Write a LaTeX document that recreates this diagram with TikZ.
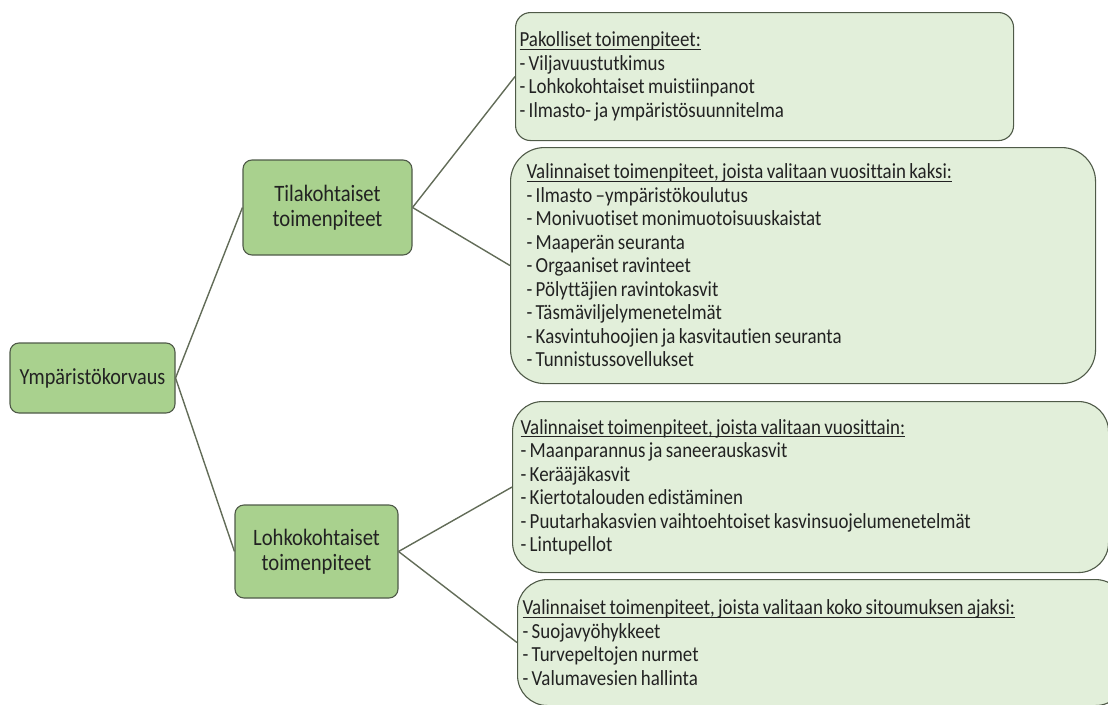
\documentclass[tikz,border=0pt]{standalone}
\usepackage{fontspec}
\setmainfont[Ligatures=NoCommon, FakeStretch=0.88]{Carlito}
\newsavebox\ulbox
\newcommand\myul[1]{\sbox\ulbox{#1}\rlap{\rule[-3.2pt]{\wd\ulbox}{1pt}}\usebox\ulbox}
\newcommand\tsp{\spaceskip=3.4pt\relax}
\definecolor{darkfill}{HTML}{A9D18E}
\definecolor{lightfill}{HTML}{E2EFDA}
\definecolor{bordercol}{HTML}{4F5A48}
\definecolor{linecol}{HTML}{626C58}
\definecolor{txt}{HTML}{222222}
\begin{document}
\begin{tikzpicture}[x=1pt,y=-1pt,
  mainbox/.style={draw=bordercol, line width=1.1pt, fill=darkfill, rounded corners=9pt,
    align=center, text=txt, inner sep=0pt},
  listbox/.style={draw=bordercol, line width=1.1pt, fill=lightfill, align=left, text=txt,
    font=\fontsize{21.5}{23.5}\selectfont, anchor=north west, inner ysep=0pt},
  conn/.style={draw=linecol, line width=1.4pt}]
\useasboundingbox (0,0) rectangle (1108,704);
\clip (0,0) rectangle (1108,704);

\node[mainbox, minimum width=165pt, minimum height=70pt, font=\fontsize{23}{26}\selectfont]
  (root) at (92.5,378) {Ympäristökorvaus};
\node[mainbox, minimum width=169pt, minimum height=95pt, font=\fontsize{23.5}{24.5}\selectfont]
  (tila) at (327.5,207.5) {Tilakohtaiset\\toimenpiteet};
\node[mainbox, minimum width=163pt, minimum height=93pt, font=\fontsize{23.5}{24.5}\selectfont]
  (lohko) at (316.5,551.5) {Lohkokohtaiset\\toimenpiteet};

\node[listbox, rounded corners=15pt, inner xsep=4pt, text width=490pt, minimum height=128pt]
  (b1) at (515,12) {\tsp\myul{Pakolliset toimenpiteet:}\\
  - Viljavuustutkimus\\
  - Lohkokohtaiset muistiinpanot\\
  - Ilmasto- ja ympäristösuunnitelma};
\node[listbox, rounded corners=34pt, inner xsep=16pt, text width=553pt, minimum height=236pt]
  (b2) at (510,147) {\tsp\myul{Valinnaiset toimenpiteet, joista valitaan vuosittain kaksi:}\\
  - Ilmasto –ympäristökoulutus\\
  - Monivuotiset monimuotoisuuskaistat\\
  - Maaperän seuranta\\
  - Orgaaniset ravinteet\\
  - Pölyttäjien ravintokasvit\\
  - Täsmäviljelymenetelmät\\
  - Kasvintuhoojien ja kasvitautien seuranta\\
  - Tunnistussovellukset};
\node[listbox, rounded corners=30pt, inner xsep=8pt, text width=580pt, minimum height=171pt]
  (b3) at (512,401) {\tsp\myul{Valinnaiset toimenpiteet, joista valitaan vuosittain:}\\
  - Maanparannus ja saneerauskasvit\\
  - Kerääjäkasvit\\
  - Kiertotalouden edistäminen\\
  - Puutarhakasvien vaihtoehtoiset kasvinsuojelumenetelmät\\
  - Lintupellot};
\node[listbox, rounded corners=30pt, inner xsep=5pt, text width=598pt, minimum height=126pt]
  (b4) at (517,579) {\tsp\myul{Valinnaiset toimenpiteet, joista valitaan koko sitoumuksen ajaksi:}\\
  - Suojavyöhykkeet\\
  - Turvepeltojen nurmet\\
  - Valumavesien hallinta};

\draw[conn] (root.east) -- (tila.west);
\draw[conn] (root.east) -- (lohko.west);
\draw[conn] (tila.east) -- (b1.west);
\draw[conn] (tila.east) -- (b2.west);
\draw[conn] (lohko.east) -- (b3.west);
\draw[conn] (lohko.east) -- (b4.west);
\end{tikzpicture}
\end{document}
